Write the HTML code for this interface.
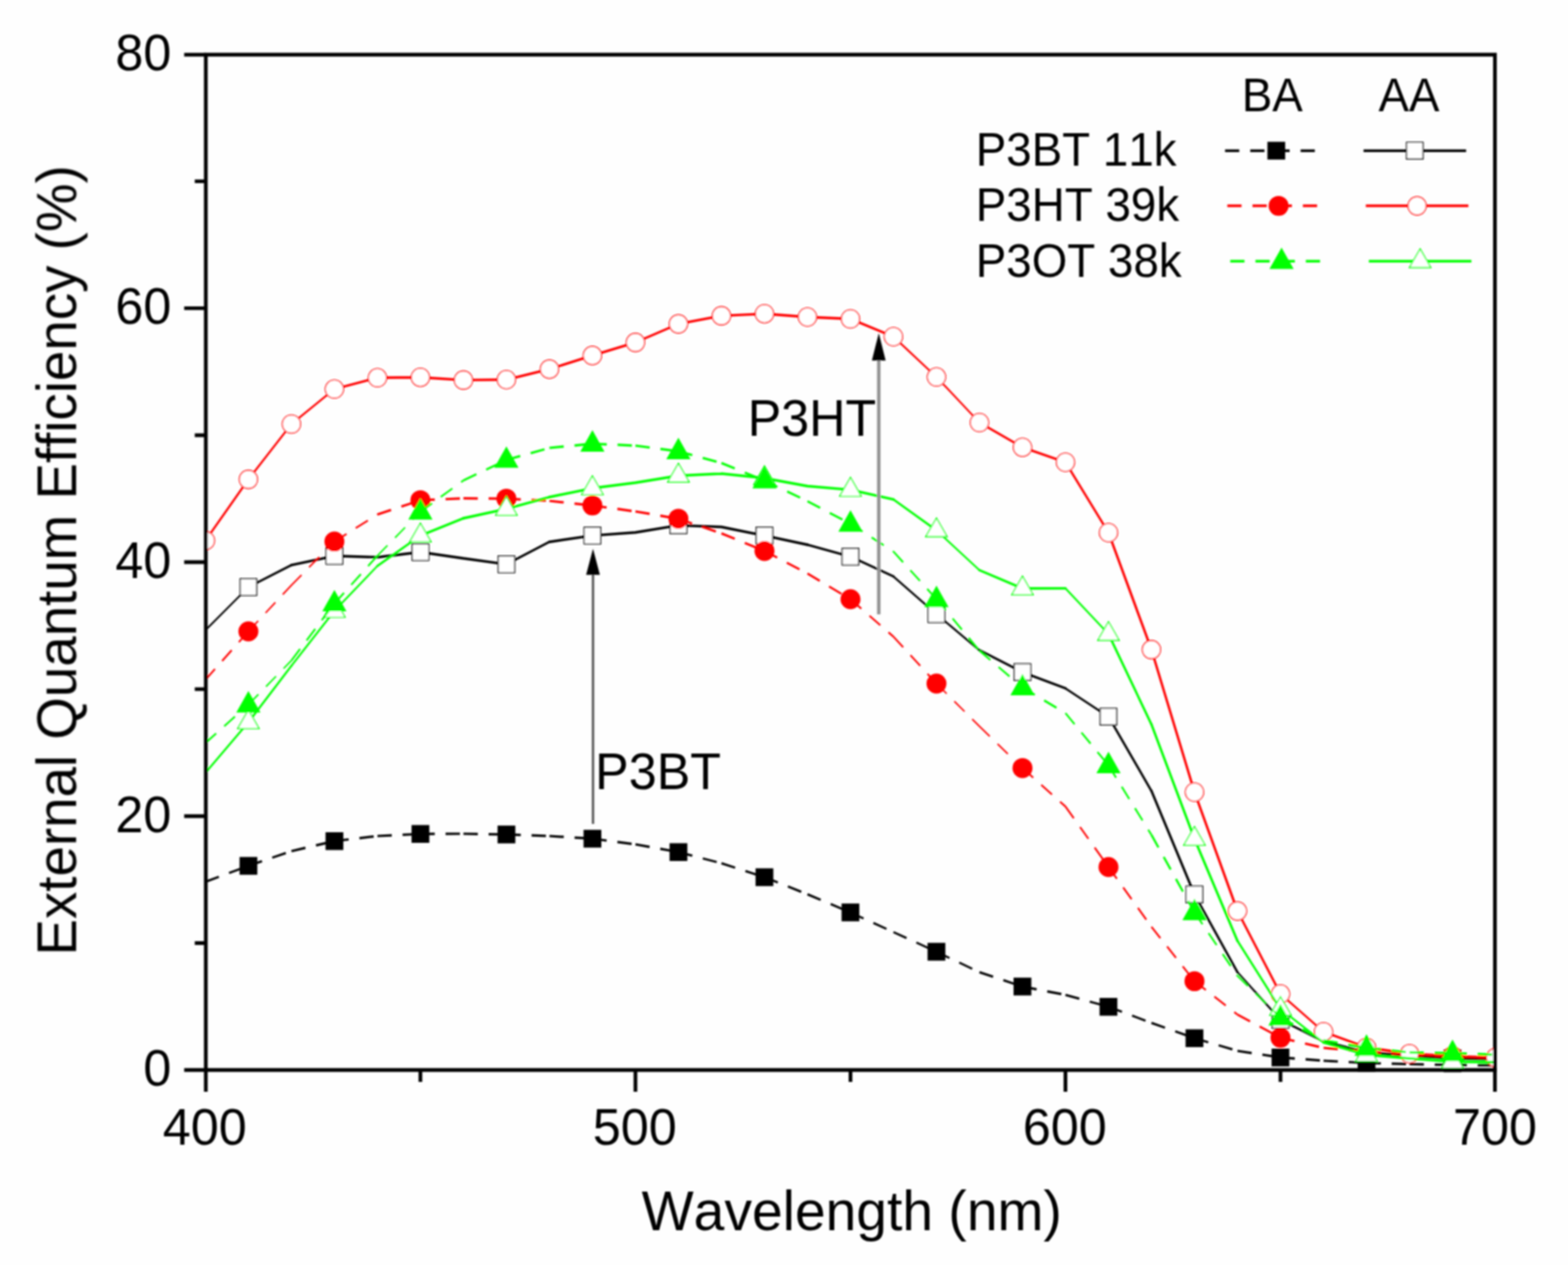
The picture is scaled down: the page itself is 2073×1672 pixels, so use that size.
<!DOCTYPE html>
<html lang="en"><head><meta charset="utf-8"><title>External Quantum Efficiency</title>
<style>
html,body{margin:0;padding:0;background:#fefefe;}
body{width:2073px;height:1672px;}
svg{display:block;}
text{font-family:"Liberation Sans",sans-serif;fill:#000;font-kerning:none;font-variant-ligatures:none;}
.tk{font-size:66.5px;}
.ax{font-size:73px;}
.lg{font-size:60.5px;}
.an{font-size:66.5px;}
</style></head><body>
<svg width="2073" height="1672" viewBox="0 0 2073 1672">
<rect x="0" y="0" width="2073" height="1672" fill="#fefefe"/>
<defs><filter id="soft" filterUnits="userSpaceOnUse" x="0" y="0" width="2073" height="1672"><feGaussianBlur stdDeviation="0.9"/></filter></defs>
<g filter="url(#soft)">
<defs><clipPath id="pc"><rect x="272.3" y="71.8" width="1704" height="1345.5"/></clipPath></defs>
<g id="data" clip-path="url(#pc)">
<g id="s-bba">
<path d="M271.6 1165.6L328.4 1144.4M328.4 1144.4L385.3 1125M896.9 1126.2L953.8 1141M953.8 1141L1010.7 1159.4M1010.7 1159.4L1067.5 1182M1067.5 1182L1124.4 1206M1294.9 1285L1351.8 1304M1408.6 1315L1465.5 1330.7M1465.5 1330.7L1522.3 1352M1522.3 1352L1579.2 1372.2M1579.2 1372.2L1636 1389" fill="none" stroke="#000000" stroke-width="3.0" stroke-dasharray="19 14.3"/>
<path d="M385.3 1125L442.1 1111.7M442.1 1111.7L499 1105M499 1105L555.8 1102.3M555.8 1102.3L612.7 1102M612.7 1102L669.5 1102.9M669.5 1102.9L726.4 1105M726.4 1105L783.2 1108.5M783.2 1108.5L840.1 1116M840.1 1116L896.9 1126.2M1351.8 1304L1408.6 1315M1636 1389L1692.9 1397.7M1692.9 1397.7L1749.8 1402M1749.8 1402L1806.6 1405M1806.6 1405L1863.5 1406.5M1863.5 1406.5L1920.3 1407.5M1920.3 1407.5L1977.2 1408" fill="none" stroke="#000000" stroke-width="3.2" stroke-dasharray="19 14.3"/>
<path d="M1124.4 1206L1181.2 1232M1181.2 1232L1238.1 1258M1238.1 1258L1294.9 1285" fill="none" stroke="#000000" stroke-width="2.8" stroke-dasharray="19 14.3"/>
<rect x="316.7" y="1132.7" width="23.5" height="23.5" fill="#000000"/>
<rect x="430.4" y="1100" width="23.5" height="23.5" fill="#000000"/>
<rect x="544.1" y="1090.5" width="23.5" height="23.5" fill="#000000"/>
<rect x="657.8" y="1091.2" width="23.5" height="23.5" fill="#000000"/>
<rect x="771.5" y="1096.8" width="23.5" height="23.5" fill="#000000"/>
<rect x="885.2" y="1114.5" width="23.5" height="23.5" fill="#000000"/>
<rect x="998.9" y="1147.7" width="23.5" height="23.5" fill="#000000"/>
<rect x="1112.6" y="1194.2" width="23.5" height="23.5" fill="#000000"/>
<rect x="1226.3" y="1246.2" width="23.5" height="23.5" fill="#000000"/>
<rect x="1340" y="1292.2" width="23.5" height="23.5" fill="#000000"/>
<rect x="1453.7" y="1319" width="23.5" height="23.5" fill="#000000"/>
<rect x="1567.4" y="1360.5" width="23.5" height="23.5" fill="#000000"/>
<rect x="1681.1" y="1386" width="23.5" height="23.5" fill="#000000"/>
<rect x="1794.9" y="1393.2" width="23.5" height="23.5" fill="#000000"/>
<rect x="1908.6" y="1395.8" width="23.5" height="23.5" fill="#000000"/>
</g>
<g id="s-baa">
<path d="M271.6 833L328.4 776" fill="none" stroke="#000000" stroke-width="2.4" stroke-linecap="round"/>
<path d="M328.4 776L385.3 746.9M669.5 745.9L726.4 716.2M1124.4 735.7L1181.2 761.9M1294.9 859.4L1351.8 888.4M1465.5 947.3L1522.3 1045.4M1579.2 1182.3L1636 1285M1692.9 1348L1749.8 1376.4" fill="none" stroke="#000000" stroke-width="3.0" stroke-linecap="round"/>
<path d="M385.3 746.9L442.1 734.8M442.1 734.8L499 736.5M499 736.5L555.8 729.7M555.8 729.7L612.7 738M612.7 738L669.5 745.9M726.4 716.2L783.2 707.9M783.2 707.9L840.1 703.8M840.1 703.8L896.9 694.4M896.9 694.4L953.8 696.5M953.8 696.5L1010.7 707.9M1010.7 707.9L1067.5 720M1806.6 1391L1863.5 1395.5M1863.5 1395.5L1920.3 1399M1920.3 1399L1977.2 1400" fill="none" stroke="#000000" stroke-width="3.4" stroke-linecap="round"/>
<path d="M1067.5 720L1124.4 735.7M1351.8 888.4L1408.6 909.8M1522.3 1045.4L1579.2 1182.3M1749.8 1376.4L1806.6 1391" fill="none" stroke="#000000" stroke-width="3.2" stroke-linecap="round"/>
<path d="M1181.2 761.9L1238.1 811.7M1238.1 811.7L1294.9 859.4M1636 1285L1692.9 1348" fill="none" stroke="#000000" stroke-width="2.6" stroke-linecap="round"/>
<path d="M1408.6 909.8L1465.5 947.3" fill="none" stroke="#000000" stroke-width="2.8" stroke-linecap="round"/>
<rect x="317.5" y="765" width="21.9" height="21.9" fill="#fff" stroke="#000000" stroke-width="1.6"/>
<rect x="431.2" y="723.8" width="21.9" height="21.9" fill="#fff" stroke="#000000" stroke-width="1.6"/>
<rect x="544.9" y="718.8" width="21.9" height="21.9" fill="#fff" stroke="#000000" stroke-width="1.6"/>
<rect x="658.6" y="734.9" width="21.9" height="21.9" fill="#fff" stroke="#000000" stroke-width="1.6"/>
<rect x="772.3" y="696.9" width="21.9" height="21.9" fill="#fff" stroke="#000000" stroke-width="1.6"/>
<rect x="886" y="683.4" width="21.9" height="21.9" fill="#fff" stroke="#000000" stroke-width="1.6"/>
<rect x="999.7" y="696.9" width="21.9" height="21.9" fill="#fff" stroke="#000000" stroke-width="1.6"/>
<rect x="1113.4" y="724.8" width="21.9" height="21.9" fill="#fff" stroke="#000000" stroke-width="1.6"/>
<rect x="1227.1" y="800.8" width="21.9" height="21.9" fill="#fff" stroke="#000000" stroke-width="1.6"/>
<rect x="1340.8" y="877.4" width="21.9" height="21.9" fill="#fff" stroke="#000000" stroke-width="1.6"/>
<rect x="1454.5" y="936.3" width="21.9" height="21.9" fill="#fff" stroke="#000000" stroke-width="1.6"/>
<rect x="1568.2" y="1171.3" width="21.9" height="21.9" fill="#fff" stroke="#000000" stroke-width="1.6"/>
<rect x="1681.9" y="1337" width="21.9" height="21.9" fill="#fff" stroke="#000000" stroke-width="1.6"/>
<rect x="1795.7" y="1380" width="21.9" height="21.9" fill="#fff" stroke="#000000" stroke-width="1.6"/>
<rect x="1909.4" y="1388" width="21.9" height="21.9" fill="#fff" stroke="#000000" stroke-width="1.6"/>
</g>
<g id="s-hba">
<path d="M271.6 898.5L328.4 834.5M442.1 715.8L499 680M1124.4 792L1181.2 841.5M1181.2 841.5L1238.1 903.5M1351.8 1015.2L1408.6 1066M1408.6 1066L1465.5 1146M1465.5 1146L1522.3 1225M1522.3 1225L1579.2 1296.9M1579.2 1296.9L1636 1341" fill="none" stroke="#ff0000" stroke-width="2.4" stroke-dasharray="19 14.3"/>
<path d="M328.4 834.5L385.3 773.5M385.3 773.5L442.1 715.8M1238.1 903.5L1294.9 960M1294.9 960L1351.8 1015.2" fill="none" stroke="#ff0000" stroke-width="2.0" stroke-dasharray="19 14.3"/>
<path d="M499 680L555.8 661.2M896.9 685.7L953.8 705M953.8 705L1010.7 728.2" fill="none" stroke="#ff0000" stroke-width="3.0" stroke-dasharray="19 14.3"/>
<path d="M555.8 661.2L612.7 658.7M612.7 658.7L669.5 659.1M669.5 659.1L726.4 662M726.4 662L783.2 668.1M783.2 668.1L840.1 676M840.1 676L896.9 685.7M1692.9 1371.6L1749.8 1385M1749.8 1385L1806.6 1390M1806.6 1390L1863.5 1394M1863.5 1394L1920.3 1396M1920.3 1396L1977.2 1398" fill="none" stroke="#ff0000" stroke-width="3.2" stroke-dasharray="19 14.3"/>
<path d="M1010.7 728.2L1067.5 758M1067.5 758L1124.4 792M1636 1341L1692.9 1371.6" fill="none" stroke="#ff0000" stroke-width="2.8" stroke-dasharray="19 14.3"/>
<circle cx="328.4" cy="834.5" r="13.2" fill="#ff0000"/>
<circle cx="442.1" cy="715.8" r="13.2" fill="#ff0000"/>
<circle cx="555.8" cy="661.2" r="13.2" fill="#ff0000"/>
<circle cx="669.5" cy="659.1" r="13.2" fill="#ff0000"/>
<circle cx="783.2" cy="668.1" r="13.2" fill="#ff0000"/>
<circle cx="896.9" cy="685.7" r="13.2" fill="#ff0000"/>
<circle cx="1010.7" cy="728.2" r="13.2" fill="#ff0000"/>
<circle cx="1124.4" cy="792" r="13.2" fill="#ff0000"/>
<circle cx="1238.1" cy="903.5" r="13.2" fill="#ff0000"/>
<circle cx="1351.8" cy="1015.2" r="13.2" fill="#ff0000"/>
<circle cx="1465.5" cy="1146" r="13.2" fill="#ff0000"/>
<circle cx="1579.2" cy="1296.9" r="13.2" fill="#ff0000"/>
<circle cx="1692.9" cy="1371.6" r="13.2" fill="#ff0000"/>
<circle cx="1806.6" cy="1390" r="13.2" fill="#ff0000"/>
<circle cx="1920.3" cy="1396" r="13.2" fill="#ff0000"/>
</g>
<g id="s-haa">
<path d="M271.6 714.5L328.4 633.6" fill="none" stroke="#ff0000" stroke-width="2.8" stroke-linecap="round"/>
<path d="M328.4 633.6L385.3 560.5M385.3 560.5L442.1 514.3M1692.9 1313.8L1749.8 1363.7" fill="none" stroke="#ff0000" stroke-width="2.6" stroke-linecap="round"/>
<path d="M442.1 514.3L499 499.3M726.4 487.9L783.2 469.9M783.2 469.9L840.1 452.6M840.1 452.6L896.9 428.1M1124.4 421.5L1181.2 445M1351.8 591.2L1408.6 611M1465.5 704L1522.3 858.6M1522.3 858.6L1579.2 1047M1579.2 1047L1636 1204.1M1749.8 1363.7L1806.6 1384.5" fill="none" stroke="#ff0000" stroke-width="3.2" stroke-linecap="round"/>
<path d="M499 499.3L555.8 498.7M555.8 498.7L612.7 502.4M612.7 502.4L669.5 501.8M669.5 501.8L726.4 487.9M896.9 428.1L953.8 417.4M953.8 417.4L1010.7 414.7M1010.7 414.7L1067.5 419M1067.5 419L1124.4 421.5M1806.6 1384.5L1863.5 1392.8M1863.5 1392.8L1920.3 1396M1920.3 1396L1977.2 1397.9" fill="none" stroke="#ff0000" stroke-width="3.4" stroke-linecap="round"/>
<path d="M1181.2 445L1238.1 498.3M1238.1 498.3L1294.9 558.5" fill="none" stroke="#ff0000" stroke-width="2.4" stroke-linecap="round"/>
<path d="M1294.9 558.5L1351.8 591.2M1408.6 611L1465.5 704M1636 1204.1L1692.9 1313.8" fill="none" stroke="#ff0000" stroke-width="3.0" stroke-linecap="round"/>
<circle cx="271.6" cy="714.5" r="12" fill="#fff" stroke="#ff0000" stroke-width="1.6"/>
<circle cx="328.4" cy="633.6" r="12" fill="#fff" stroke="#ff0000" stroke-width="1.6"/>
<circle cx="385.3" cy="560.5" r="12" fill="#fff" stroke="#ff0000" stroke-width="1.6"/>
<circle cx="442.1" cy="514.3" r="12" fill="#fff" stroke="#ff0000" stroke-width="1.6"/>
<circle cx="499" cy="499.3" r="12" fill="#fff" stroke="#ff0000" stroke-width="1.6"/>
<circle cx="555.8" cy="498.7" r="12" fill="#fff" stroke="#ff0000" stroke-width="1.6"/>
<circle cx="612.7" cy="502.4" r="12" fill="#fff" stroke="#ff0000" stroke-width="1.6"/>
<circle cx="669.5" cy="501.8" r="12" fill="#fff" stroke="#ff0000" stroke-width="1.6"/>
<circle cx="726.4" cy="487.9" r="12" fill="#fff" stroke="#ff0000" stroke-width="1.6"/>
<circle cx="783.2" cy="469.9" r="12" fill="#fff" stroke="#ff0000" stroke-width="1.6"/>
<circle cx="840.1" cy="452.6" r="12" fill="#fff" stroke="#ff0000" stroke-width="1.6"/>
<circle cx="896.9" cy="428.1" r="12" fill="#fff" stroke="#ff0000" stroke-width="1.6"/>
<circle cx="953.8" cy="417.4" r="12" fill="#fff" stroke="#ff0000" stroke-width="1.6"/>
<circle cx="1010.7" cy="414.7" r="12" fill="#fff" stroke="#ff0000" stroke-width="1.6"/>
<circle cx="1067.5" cy="419" r="12" fill="#fff" stroke="#ff0000" stroke-width="1.6"/>
<circle cx="1124.4" cy="421.5" r="12" fill="#fff" stroke="#ff0000" stroke-width="1.6"/>
<circle cx="1181.2" cy="445" r="12" fill="#fff" stroke="#ff0000" stroke-width="1.6"/>
<circle cx="1238.1" cy="498.3" r="12" fill="#fff" stroke="#ff0000" stroke-width="1.6"/>
<circle cx="1294.9" cy="558.5" r="12" fill="#fff" stroke="#ff0000" stroke-width="1.6"/>
<circle cx="1351.8" cy="591.2" r="12" fill="#fff" stroke="#ff0000" stroke-width="1.6"/>
<circle cx="1408.6" cy="611" r="12" fill="#fff" stroke="#ff0000" stroke-width="1.6"/>
<circle cx="1465.5" cy="704" r="12" fill="#fff" stroke="#ff0000" stroke-width="1.6"/>
<circle cx="1522.3" cy="858.6" r="12" fill="#fff" stroke="#ff0000" stroke-width="1.6"/>
<circle cx="1579.2" cy="1047" r="12" fill="#fff" stroke="#ff0000" stroke-width="1.6"/>
<circle cx="1636" cy="1204.1" r="12" fill="#fff" stroke="#ff0000" stroke-width="1.6"/>
<circle cx="1692.9" cy="1313.8" r="12" fill="#fff" stroke="#ff0000" stroke-width="1.6"/>
<circle cx="1749.8" cy="1363.7" r="12" fill="#fff" stroke="#ff0000" stroke-width="1.6"/>
<circle cx="1806.6" cy="1384.5" r="12" fill="#fff" stroke="#ff0000" stroke-width="1.6"/>
<circle cx="1863.5" cy="1392.8" r="12" fill="#fff" stroke="#ff0000" stroke-width="1.6"/>
<circle cx="1920.3" cy="1396" r="12" fill="#fff" stroke="#ff0000" stroke-width="1.6"/>
<circle cx="1977.2" cy="1397.9" r="12" fill="#fff" stroke="#ff0000" stroke-width="1.6"/>
</g>
<g id="s-oaa">
<path d="M271.6 1021.4L328.4 954.6M385.3 880L442.1 807.4M1692.9 1333.5L1749.8 1378" fill="none" stroke="#00ff00" stroke-width="2.6" stroke-linecap="round"/>
<path d="M328.4 954.6L385.3 880M499 748L555.8 707.9M1181.2 660.2L1238.1 701M1636 1243.6L1692.9 1333.5" fill="none" stroke="#00ff00" stroke-width="2.8" stroke-linecap="round"/>
<path d="M442.1 807.4L499 748M1238.1 701L1294.9 753.6M1408.6 777.6L1465.5 838" fill="none" stroke="#00ff00" stroke-width="2.4" stroke-linecap="round"/>
<path d="M555.8 707.9L612.7 685M669.5 672.6L726.4 657M1294.9 753.6L1351.8 777.8M1522.3 957.5L1579.2 1108.8M1579.2 1108.8L1636 1243.6M1749.8 1378L1806.6 1394.3" fill="none" stroke="#00ff00" stroke-width="3.2" stroke-linecap="round"/>
<path d="M612.7 685L669.5 672.6M726.4 657L783.2 645.3M783.2 645.3L840.1 638M840.1 638L896.9 628.7M896.9 628.7L953.8 626M953.8 626L1010.7 632M1010.7 632L1067.5 642.5M1067.5 642.5L1124.4 647.4M1124.4 647.4L1181.2 660.2M1351.8 777.8L1408.6 777.6M1806.6 1394.3L1863.5 1399M1863.5 1399L1920.3 1403.3M1920.3 1403.3L1977.2 1404" fill="none" stroke="#00ff00" stroke-width="3.4" stroke-linecap="round"/>
<path d="M1465.5 838L1522.3 957.5" fill="none" stroke="#00ff00" stroke-width="3.0" stroke-linecap="round"/>
<polygon points="328.4,938.4 342.5,963 314.3,963" fill="#fff" stroke="#00ff00" stroke-width="1.6" stroke-linejoin="miter"/>
<polygon points="442.1,791.2 456.2,815.8 428,815.8" fill="#fff" stroke="#00ff00" stroke-width="1.6" stroke-linejoin="miter"/>
<polygon points="555.8,691.7 569.9,716.3 541.7,716.3" fill="#fff" stroke="#00ff00" stroke-width="1.6" stroke-linejoin="miter"/>
<polygon points="669.5,656.4 683.6,681 655.4,681" fill="#fff" stroke="#00ff00" stroke-width="1.6" stroke-linejoin="miter"/>
<polygon points="783.2,629.1 797.4,653.7 769.1,653.7" fill="#fff" stroke="#00ff00" stroke-width="1.6" stroke-linejoin="miter"/>
<polygon points="896.9,612.5 911.1,637.1 882.8,637.1" fill="#fff" stroke="#00ff00" stroke-width="1.6" stroke-linejoin="miter"/>
<polygon points="1010.7,615.8 1024.8,640.4 996.5,640.4" fill="#fff" stroke="#00ff00" stroke-width="1.6" stroke-linejoin="miter"/>
<polygon points="1124.4,631.2 1138.5,655.8 1110.2,655.8" fill="#fff" stroke="#00ff00" stroke-width="1.6" stroke-linejoin="miter"/>
<polygon points="1238.1,684.8 1252.2,709.4 1223.9,709.4" fill="#fff" stroke="#00ff00" stroke-width="1.6" stroke-linejoin="miter"/>
<polygon points="1351.8,761.6 1365.9,786.2 1337.7,786.2" fill="#fff" stroke="#00ff00" stroke-width="1.6" stroke-linejoin="miter"/>
<polygon points="1465.5,821.8 1479.6,846.4 1451.4,846.4" fill="#fff" stroke="#00ff00" stroke-width="1.6" stroke-linejoin="miter"/>
<polygon points="1579.2,1092.6 1593.3,1117.2 1565.1,1117.2" fill="#fff" stroke="#00ff00" stroke-width="1.6" stroke-linejoin="miter"/>
<polygon points="1692.9,1317.3 1707,1341.9 1678.8,1341.9" fill="#fff" stroke="#00ff00" stroke-width="1.6" stroke-linejoin="miter"/>
<polygon points="1806.6,1378.1 1820.7,1402.7 1792.5,1402.7" fill="#fff" stroke="#00ff00" stroke-width="1.6" stroke-linejoin="miter"/>
<polygon points="1920.3,1387.1 1934.4,1411.7 1906.2,1411.7" fill="#fff" stroke="#00ff00" stroke-width="1.6" stroke-linejoin="miter"/>
</g>
<g id="s-oba">
<path d="M271.6 982L328.4 931.3M385.3 873L442.1 797.7M442.1 797.7L499 734.5M555.8 676.4L612.7 635M1124.4 692.3L1181.2 729M1181.2 729L1238.1 792M1238.1 792L1294.9 860M1294.9 860L1351.8 908.7M1408.6 942.5L1465.5 1011.6M1465.5 1011.6L1522.3 1103.5M1579.2 1205.8L1636 1290" fill="none" stroke="#00ff00" stroke-width="2.4" stroke-dasharray="19 14.3"/>
<path d="M328.4 931.3L385.3 873M499 734.5L555.8 676.4M1636 1290L1692.9 1345" fill="none" stroke="#00ff00" stroke-width="2.0" stroke-dasharray="19 14.3"/>
<path d="M612.7 635L669.5 607.9M1010.7 635.2L1067.5 662.5M1067.5 662.5L1124.4 692.3M1351.8 908.7L1408.6 942.5M1522.3 1103.5L1579.2 1205.8M1692.9 1345L1749.8 1375" fill="none" stroke="#00ff00" stroke-width="2.8" stroke-dasharray="19 14.3"/>
<path d="M669.5 607.9L726.4 592M896.9 596.5L953.8 612M953.8 612L1010.7 635.2" fill="none" stroke="#00ff00" stroke-width="3.0" stroke-dasharray="19 14.3"/>
<path d="M726.4 592L783.2 586.5M783.2 586.5L840.1 589M840.1 589L896.9 596.5M1749.8 1375L1806.6 1385M1806.6 1385L1863.5 1391M1863.5 1391L1920.3 1392M1920.3 1392L1977.2 1394" fill="none" stroke="#00ff00" stroke-width="3.2" stroke-dasharray="19 14.3"/>
<polygon points="328.4,913.3 344.4,941.7 312.4,941.7" fill="#00ff00"/>
<polygon points="442.1,779.7 458.1,808.1 426.1,808.1" fill="#00ff00"/>
<polygon points="555.8,658.4 571.8,686.8 539.8,686.8" fill="#00ff00"/>
<polygon points="669.5,589.9 685.5,618.3 653.5,618.3" fill="#00ff00"/>
<polygon points="783.2,568.5 799.2,596.9 767.2,596.9" fill="#00ff00"/>
<polygon points="896.9,578.5 912.9,606.9 880.9,606.9" fill="#00ff00"/>
<polygon points="1010.7,617.2 1026.7,645.6 994.7,645.6" fill="#00ff00"/>
<polygon points="1124.4,674.3 1140.4,702.7 1108.4,702.7" fill="#00ff00"/>
<polygon points="1238.1,774 1254.1,802.4 1222.1,802.4" fill="#00ff00"/>
<polygon points="1351.8,890.7 1367.8,919.1 1335.8,919.1" fill="#00ff00"/>
<polygon points="1465.5,993.6 1481.5,1022 1449.5,1022" fill="#00ff00"/>
<polygon points="1579.2,1187.8 1595.2,1216.2 1563.2,1216.2" fill="#00ff00"/>
<polygon points="1692.9,1327 1708.9,1355.4 1676.9,1355.4" fill="#00ff00"/>
<polygon points="1806.6,1367 1822.6,1395.4 1790.6,1395.4" fill="#00ff00"/>
<polygon points="1920.3,1374 1936.3,1402.4 1904.3,1402.4" fill="#00ff00"/>
</g>
</g>
<g id="axes" stroke="#000" stroke-width="4.9" fill="none" stroke-linecap="butt">
<path d="M272.1 1443L272.1 72.3L1976.4 72.3L1976.4 1443"/>
<path d="M243.5 1414.3L1978.8 1414.3"/>
<path d="M243.5 72.3L272.3 72.3"/>
<path d="M257.5 1246.5L272.3 1246.5M243.5 1078.7L272.3 1078.7M257.5 910.9L272.3 910.9M243.5 743L272.3 743M257.5 575.2L272.3 575.2M243.5 407.4L272.3 407.4M257.5 239.6L272.3 239.6M555.8 1414.3L555.8 1430M840.1 1414.3L840.1 1443M1124.4 1414.3L1124.4 1430M1408.6 1414.3L1408.6 1443M1692.9 1414.3L1692.9 1430"/>
</g>
<g><line x1="1161.8" y1="475.5" x2="1161.8" y2="812" stroke="#939393" stroke-width="4.6"/><polygon points="1161.8,440.2 1170.9,476.5 1152.7,476.5" fill="#000"/></g>
<g><line x1="784" y1="758.7" x2="784" y2="1089" stroke="#505050" stroke-width="3"/><polygon points="784,725.2 793.1,759.7 774.9,759.7" fill="#000"/></g>
<text class="an" transform="translate(988.5 576.2) scale(1 1.030)">P3HT</text>
<text class="an" transform="translate(786.8 1043.2) scale(1 1.030)">P3BT</text>
<text class="tk" text-anchor="end" transform="translate(226.5 1435.2) scale(1 1.035)">0</text>
<text class="tk" text-anchor="end" transform="translate(226.5 1099.6) scale(1 1.035)">20</text>
<text class="tk" text-anchor="end" transform="translate(226.5 763.9) scale(1 1.035)">40</text>
<text class="tk" text-anchor="end" transform="translate(226.5 428.3) scale(1 1.035)">60</text>
<text class="tk" text-anchor="end" transform="translate(226.5 92.7) scale(1 1.035)">80</text>
<text class="tk" text-anchor="middle" transform="translate(270.8 1512.8) scale(1 1.035)">400</text>
<text class="tk" text-anchor="middle" transform="translate(839.3 1512.8) scale(1 1.035)">500</text>
<text class="tk" text-anchor="middle" transform="translate(1407.8 1512.8) scale(1 1.035)">600</text>
<text class="tk" text-anchor="middle" transform="translate(1976.4 1512.8) scale(1 1.035)">700</text>
<text class="ax" text-anchor="middle" transform="translate(1126 1625.8) scale(1 1.015)">Wavelength (nm)</text>
<text class="ax" style="font-size:72.3px" text-anchor="middle" transform="translate(100.6 740.7) rotate(-90) scale(1 1.015)">External Quantum Efficiency (%)</text>
<g id="legend">
<text class="lg" transform="translate(1641.7 146.6) scale(1 1.035)">BA</text>
<text class="lg" transform="translate(1822.5 146.6) scale(1 1.035)">AA</text>
<text class="lg" transform="translate(1290 219.3) scale(1 1.035)">P3BT 11k</text>
<line x1="1619.6" y1="199.2" x2="1738.6" y2="199.2" stroke="#000000" stroke-width="3.5" stroke-dasharray="18.8 14.5"/>
<rect x="1675.6" y="187.4" width="23.5" height="23.5" fill="#000000"/>
<line x1="1802.7" y1="199.2" x2="1938.3" y2="199.2" stroke="#000000" stroke-width="3.5"/>
<rect x="1859.5" y="188.2" width="21.9" height="21.9" fill="#fff" stroke="#000000" stroke-width="1.6"/>
<text class="lg" transform="translate(1290 292.1) scale(1 1.035)">P3HT 39k</text>
<line x1="1622.6" y1="272.1" x2="1741.6" y2="272.1" stroke="#ff0000" stroke-width="3.5" stroke-dasharray="18.8 14.5"/>
<circle cx="1690.4" cy="272.1" r="13.2" fill="#ff0000"/>
<line x1="1805.7" y1="272.1" x2="1941.3" y2="272.1" stroke="#ff0000" stroke-width="3.5"/>
<circle cx="1873.5" cy="272.1" r="12" fill="#fff" stroke="#ff0000" stroke-width="1.6"/>
<text class="lg" transform="translate(1290 365.5) scale(1 1.035)">P3OT 38k</text>
<line x1="1626.5" y1="345.2" x2="1745.5" y2="345.2" stroke="#00ff00" stroke-width="3.5" stroke-dasharray="18.8 14.5"/>
<polygon points="1694.3,327.2 1710.3,355.6 1678.3,355.6" fill="#00ff00"/>
<line x1="1809.7" y1="345.2" x2="1945.3" y2="345.2" stroke="#00ff00" stroke-width="3.5"/>
<polygon points="1877.5,329 1891.6,353.6 1863.4,353.6" fill="#fff" stroke="#00ff00" stroke-width="1.6" stroke-linejoin="miter"/>
</g>
</g>
</svg>
</body></html>
